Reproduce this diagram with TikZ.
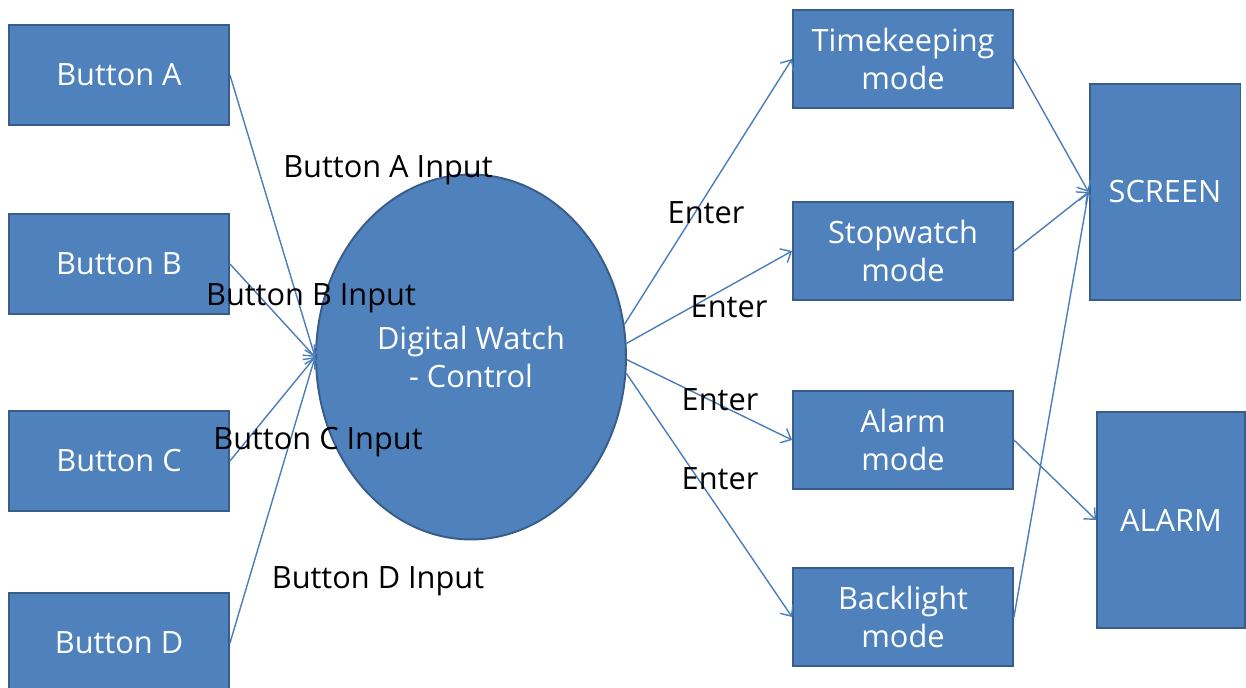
\documentclass[tikz,border=0pt]{standalone}
\usepackage{fontspec}
\setmainfont{Open Sans}
\usetikzlibrary{shapes.geometric,arrows.meta}
\definecolor{boxblue}{HTML}{4F81BD}
\definecolor{boxedge}{HTML}{385D8A}
\definecolor{linkblue}{HTML}{4A7EBB}

\begin{document}
\begin{tikzpicture}[x=0.02cm,y=-0.02cm,
    box/.style={draw=boxedge,line width=1.1pt,fill=boxblue,text=white,align=center,
        minimum width=4.4cm,minimum height=2cm,inner sep=0pt,
        font=\fontsize{17.5}{22}\selectfont},
    lbl/.style={font=\fontsize{17.5}{21}\selectfont,inner sep=0pt},
    link/.style={draw=linkblue,line width=0.8pt,-{Straight Barb[length=5pt,width=9pt]}}]
    \useasboundingbox (0,0) rectangle (1246,688);

    % Buttons
    \foreach \n/\y in {A/75,B/264,C/461,D/643} {
        \node[box] (btn\n) at (119,\y) {Button \n};
    }

    % Controller
    \node[box,ellipse,minimum width=6.2cm,minimum height=7.3cm] (ctrl) at (471,357)
        {Digital Watch\\- Control};

    % Modes
    \foreach \n/\t/\y in {time/Timekeeping/59,stop/Stopwatch/251,alarm/Alarm/440,light/Backlight/617} {
        \node[box,minimum height=1.95cm] (\n) at (903,\y) {\t\\mode};
    }

    % Outputs
    \node[box,minimum width=3.02cm,minimum height=4.32cm] (screen) at (1165,192) {SCREEN};
    \node[box,minimum width=2.96cm,minimum height=4.32cm] (ring) at (1171,520) {ALARM};

    % Arrows
    \foreach \n in {A,B,C,D} {
        \draw[link] (btn\n.east) -- (ctrl.west);
    }
    \draw[link] (ctrl.12) -- (time.west);
    \draw[link] (ctrl.5) -- (stop.west);
    \draw[link] (ctrl.-1) -- (alarm.west);
    \draw[link] (ctrl.-6) -- (light.west);
    \draw[link] (time.east) -- (screen.west);
    \draw[link] (stop.east) -- (screen.west);
    \draw[link] (light.east) -- (screen.west);
    \draw[link] (alarm.east) -- (ring.west);

    % Labels
    \node[lbl] (inA) at (388,170) {Button A Input};
    \node[lbl] (inB) at (311,298) {Button B Input};
    \node[lbl] (inC) at (318,442) {Button C Input};
    \node[lbl] (inD) at (378,581) {Button D Input};
    \node[lbl] (enTime) at (706,213) {Enter};
    \node[lbl] (enStop) at (729,307) {Enter};
    \node[lbl] (enAlarm) at (720,400) {Enter};
    \node[lbl] (enLight) at (720,479) {Enter};
\end{tikzpicture}
\end{document}
